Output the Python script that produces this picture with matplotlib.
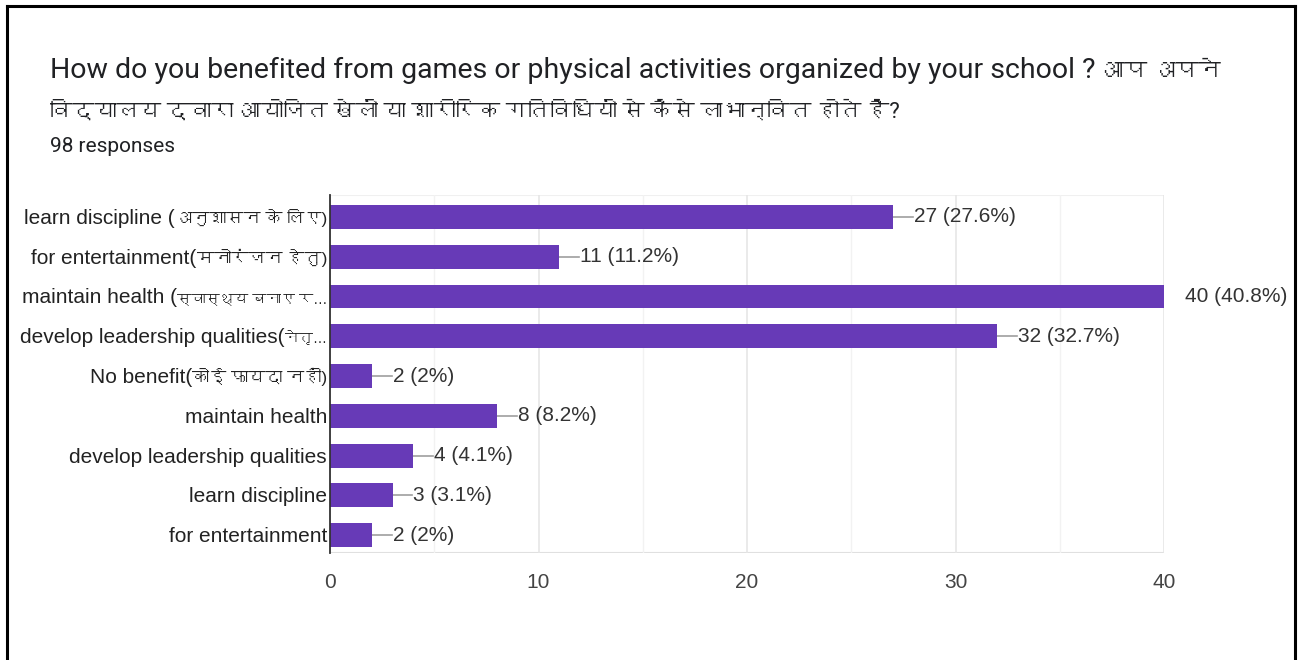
import matplotlib
matplotlib.use("Agg")
import matplotlib.pyplot as plt
from matplotlib import font_manager
from matplotlib.ft2font import FT2Font
from matplotlib.transforms import IdentityTransform

# survey answers, top to bottom
labels = [
    "learn discipline (अनुशासन के लिए)",
    "for entertainment(मनोरंजन हेतु)",
    "maintain health (स्वास्थ्य बनाए र…",
    "develop leadership qualities(नेतृ…",
    "No benefit(कोई फायदा नहीं)",
    "maintain health",
    "develop leadership qualities",
    "learn discipline",
    "for entertainment",
]
counts = [27, 11, 40, 32, 2, 8, 4, 3, 2]
total = 98
xticks = [0, 10, 20, 30, 40]

title_1 = "How do you benefited from games or physical activities organized by your school ? आप अपने"
title_2 = "विद्यालय द्वारा आयोजित खेलों या शारीरिक गतिविधियों से कैसे लाभान्वित होते हैं?"


# find any installed font that can draw Devanagari
def devanagari_families():
    found = []
    for f in font_manager.fontManager.ttflist:
        try:
            cmap = FT2Font(f.fname).get_charmap()
        except Exception:
            continue
        if 0x0905 in cmap and f.name not in found:
            found.append(f.name)
    return found


def split_script(s):
    # latin head, devanagari tail
    for i, ch in enumerate(s):
        if "\u0900" <= ch <= "\u097f":
            return s[:i], s[i:]
    return s, ""


deva = devanagari_families()
label_fam = ["Liberation Sans"] + deva + ["DejaVu Sans"]
title_fam = ["Roboto"] + deva + ["DejaVu Sans"]

purple = "#673ab7"
text_col = "#333333"
W, H = 1302, 660

fig = plt.figure(figsize=(13.02, 6.6), dpi=100)
ax = fig.add_axes([0.2535, 0.162, 0.6405, 0.5425])

y = list(range(len(counts)))
ax.barh(y, counts, height=0.6, color=purple, zorder=3)
ax.set_ylim(len(counts) - 0.55, -0.55)
ax.set_xlim(0, 40)

ax.set_yticks(y)
ax.set_yticklabels([])
ax.set_xticks(xticks)
ax.set_xticks([5, 15, 25, 35], minor=True)
ax.set_xticklabels([str(t) for t in xticks], fontfamily=label_fam, fontsize=15, color="#444444")
ax.tick_params(axis="both", which="both", length=0)
ax.tick_params(axis="x", pad=14)

ax.grid(axis="x", which="major", color="#e6e6e6", lw=1.2, zorder=0)
ax.grid(axis="x", which="minor", color="#f2f2f2", lw=1.0, zorder=0)
for s in ["top", "right", "bottom"]:
    ax.spines[s].set_visible(False)
ax.spines["left"].set_color("#333333")
ax.spines["left"].set_linewidth(1.3)
ax.spines["left"].set_zorder(4)
ax.axhline(len(counts) - 0.55, color="#e0e0e0", lw=1.5, zorder=1)
ax.axhline(-0.55, color="#f0f0f0", lw=1.5, zorder=1)

# value labels with a short leader line
for yi, c in zip(y, counts):
    pct = round(c / total * 100, 1)
    pct_s = f"{pct:g}"
    ax.plot([c, c + 0.95], [yi, yi], color="#9e9e9e", lw=1.2, zorder=2, clip_on=True)
    ax.text(c + 1.0, yi, f"{c} ({pct_s}%)", va="center", ha="left",
            fontfamily=label_fam, fontsize=15, color=text_col, clip_on=False)

fig.canvas.draw()
rend = fig.canvas.get_renderer()
px = IdentityTransform()

# category labels: latin part at 15pt, hindi part smaller so the label fits
left_limit = 20
for yi, lab in zip(y, labels):
    head, tail = split_script(lab)
    xr, yc = ax.transData.transform((0, yi))
    xr -= 3
    base = yc - 7
    head_w = 0
    if head:
        th = fig.text(xr, base, head, transform=px, ha="right", va="baseline",
                      fontfamily=label_fam, fontsize=15, color="#222222")
        head_w = th.get_window_extent(rend).width
    if tail:
        size = 12.3
        tt = fig.text(xr, base, tail, transform=px, ha="right", va="baseline",
                      fontfamily=label_fam, fontsize=size, color="#222222")
        room = xr - left_limit - head_w
        while tt.get_window_extent(rend).width > room and size > 8:
            size -= 0.2
            tt.set_fontsize(size)
        tail_w = tt.get_window_extent(rend).width
        th.set_x(xr - tail_w)

# two-line question title
head, tail = split_script(title_1)
t = fig.text(50, H - 78, head.rstrip(), transform=px, ha="left", va="baseline",
             fontfamily=title_fam, fontsize=20.5, color="#202124")
x_next = 50 + t.get_window_extent(rend).width + 7
fig.text(x_next, H - 78, tail, transform=px, ha="left", va="baseline",
         fontfamily=title_fam, fontsize=16.3, color="#202124")
fig.text(50, H - 118, title_2, transform=px, ha="left", va="baseline",
         fontfamily=title_fam, fontsize=16.0, color="#202124")
fig.text(50 / W, 1 - 147 / H, "98 responses", fontfamily=title_fam, fontsize=15,
         color="#202124", va="center", ha="left")

# outer frame, open at the bottom
frame_kw = dict(color="black", lw=2.2, transform=fig.transFigure, clip_on=False)
fig.add_artist(plt.Line2D([7 / W, 7 / W], [0, 1 - 6 / H], **frame_kw))
fig.add_artist(plt.Line2D([7 / W, 1295 / W], [1 - 6 / H, 1 - 6 / H], **frame_kw))
fig.add_artist(plt.Line2D([1295 / W, 1295 / W], [0, 1 - 6 / H], **frame_kw))

fig.savefig("out.png", dpi=100, facecolor="white")
